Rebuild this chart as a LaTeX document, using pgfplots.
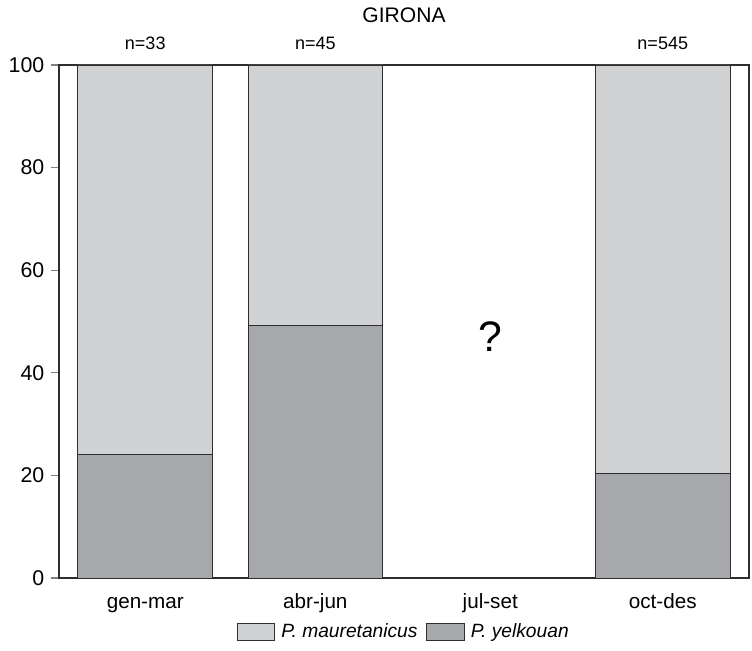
\documentclass[border=0pt]{standalone}
\usepackage{fontspec}
\setmainfont{Liberation Sans}
\usepackage{pgfplots}
\pgfplotsset{compat=1.18}
\definecolor{lightbar}{HTML}{D1D2D4}
\definecolor{darkbar}{HTML}{A7A8AB}
\definecolor{edge}{HTML}{2E2E2E}
\begin{document}
\begin{tikzpicture}
\useasboundingbox (-44.25pt,-54pt) rectangle (519.75pt,433.5pt);
\begin{axis}[
  at={(0,0)}, anchor=south west,
  scale only axis, width=517.5pt, height=384.75pt,
  ybar stacked, bar width=101pt,
  xmin=-0.5, xmax=3.5, ymin=0, ymax=100,
  xtick={0,0.986,2,3}, xticklabels={gen-mar,abr-jun,jul-set,oct-des},
  ytick={0,20,40,60,80,100},
  x tick style={draw=none},
  y tick style={draw=gray, line width=0.9pt},
  tick align=outside, major tick length=6pt,
  ytick pos=left,
  axis line style={draw=edge, line width=1pt},
  /pgf/number format/assume math mode=true,
  yticklabel style={font=\fontsize{16}{18}\selectfont, xshift=-1.5pt},
  xticklabel style={font=\fontsize{15.5}{18}\selectfont, text height=11.5pt, text depth=3.5pt, yshift=-2pt},
  clip=false,
  legend style={at={(0.5,-0.078)}, anchor=north, draw=none, legend columns=2,
    font=\fontsize{14.4}{16}\selectfont\itshape,
    /tikz/every even column/.append style={column sep=4.5pt}},
  legend image code/.code={\draw[#1, draw=edge, line width=0.6pt] (0pt,-6.5pt) rectangle (28pt,6.5pt); \path (31pt,0pt);},
]
\addlegendimage{fill=lightbar}
\addlegendentry{P. mauretanicus}
\addlegendimage{fill=darkbar}
\addlegendentry{P. yelkouan}
\addplot[fill=darkbar, draw=edge, line width=0.7pt, forget plot] coordinates {(0,24.0) (0.986,49.2) (3,20.3)};
\addplot[fill=lightbar, draw=edge, line width=0.7pt, forget plot] coordinates {(0,76.0) (0.986,50.8) (3,79.7)};
\node[font=\fontsize{13.5}{15}\selectfont] at (axis cs:0,104.3) {n=33};
\node[font=\fontsize{13.5}{15}\selectfont] at (axis cs:0.986,104.3) {n=45};
\node[font=\fontsize{13.5}{15}\selectfont] at (axis cs:3,104.3) {n=545};
\node[font=\fontsize{15.8}{18}\selectfont] at (axis cs:1.5,109.7) {GIRONA};
\node[font=\fontsize{32}{36}\selectfont] at (axis cs:2,47) {?};
\end{axis}
\end{tikzpicture}
\end{document}
